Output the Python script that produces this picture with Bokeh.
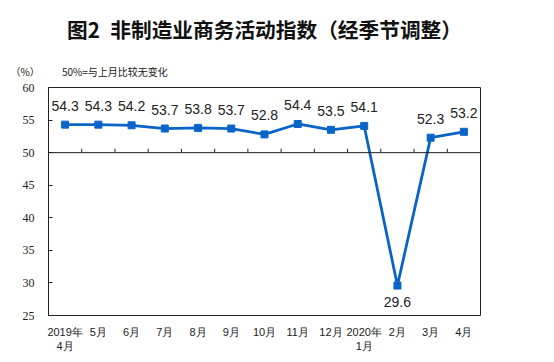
from bokeh.plotting import figure
from bokeh.models import ColumnDataSource, Range1d, FixedTicker, LinearAxis, Title, Span
from bokeh.core.properties import value
from bokeh.embed import file_html
from bokeh.resources import INLINE

months = ["2019年\n4月", "5月", "6月", "7月", "8月", "9月", "10月", "11月", "12月", "2020年\n1月", "2月", "3月", "4月"]
pmi = [54.3, 54.3, 54.2, 53.7, 53.8, 53.7, 52.8, 54.4, 53.5, 54.1, 29.6, 52.3, 53.2]
y_ticks = [25, 30, 35, 40, 45, 50, 55, 60]
baseline = 50

n = len(months)
xs = [i + 0.5 for i in range(n)]
labels = [f"{v:.1f}" for v in pmi]
offs = [-19 if v >= baseline else 16 for v in pmi]

src = ColumnDataSource(dict(x=xs, y=pmi, lab=labels, off=offs))

W, H = 546, 354
p = figure(width=W, height=H, output_backend="svg", toolbar_location=None, title=None,
           x_range=Range1d(0, n), y_range=Range1d(25, 60),
           x_axis_location=None, y_axis_location=None,
           min_border_left=48, min_border_right=66, min_border_top=87, min_border_bottom=36)
p.xgrid.visible = False
p.ygrid.visible = False
p.outline_line_color = "#222222"
p.outline_line_width = 1

yax = LinearAxis(ticker=FixedTicker(ticks=y_ticks))
yax.axis_line_color = None
yax.major_tick_in = 4
yax.major_tick_out = 0
yax.minor_tick_line_color = None
yax.major_tick_line_color = "#222222"
yax.major_label_text_font = "Liberation Serif"
yax.major_label_text_font_size = "12px"
yax.major_label_text_color = "#222222"
yax.major_label_standoff = 14
p.add_layout(yax, "left")

xax = LinearAxis(ticker=FixedTicker(ticks=xs),
                 major_label_overrides={x: m for x, m in zip(xs, months)})
xax.axis_line_color = None
xax.major_tick_line_color = None
xax.minor_tick_line_color = None
xax.major_label_text_font = "Liberation Sans"
xax.major_label_text_font_size = "11px"
xax.major_label_text_color = "#222222"
xax.major_label_standoff = 4
p.add_layout(xax, "below")

p.add_layout(Span(location=baseline, dimension="width", line_color="#222222", line_width=1))
bx = list(range(1, n))
p.segment(x0=bx, x1=bx, y0=[baseline] * len(bx), y1=[baseline + 0.6] * len(bx),
          line_color="#222222", line_width=1)

blue = "#0A64C8"
p.line("x", "y", source=src, line_color=blue, line_width=2.8)
p.scatter("x", "y", source=src, marker="square", size=7, fill_color=blue, line_color=blue)
p.text("x", "y", text="lab", source=src, y_offset="off", text_align="center",
       text_baseline="middle", text_font=value("Liberation Sans"), text_font_size="14px",
       text_color="#222222")

sub = Title(text="（%）\u3000\u3000\u2002 50%=与上月比较无变化", align="left", offset=-38,
            text_font="Noto Sans CJK SC", text_font_size="10px", text_font_style="normal",
            text_color="#222222", standoff=17)
p.add_layout(sub, "above")
main = Title(text="图2\u2002非制造业商务活动指数（经季节调整）", align="center", offset=-4,
             text_font="Noto Sans CJK SC", text_font_size="20.7px", text_font_style="bold",
             text_color="#111111", standoff=20)
p.add_layout(main, "above")

open("out.html", "w").write(file_html(p, INLINE))
